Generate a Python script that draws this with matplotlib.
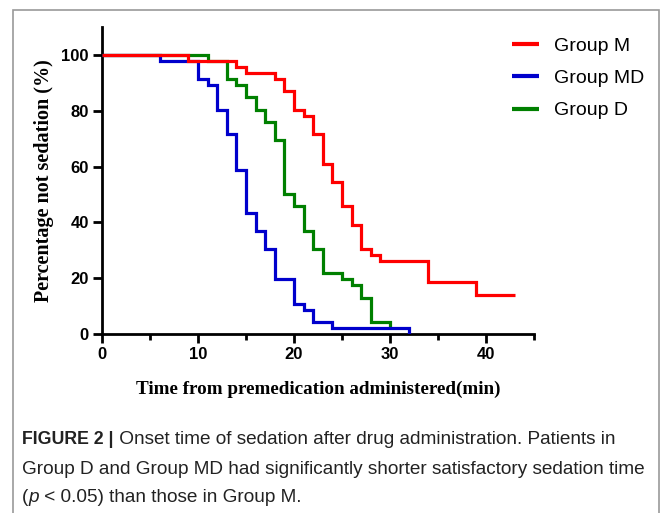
import matplotlib
matplotlib.use("Agg")
import matplotlib.pyplot as plt
from matplotlib.patches import Rectangle

# ---- data ----
m_time = [0, 9, 14, 15, 18, 19, 20, 21, 22, 23, 24, 25, 26, 27, 28, 29, 34, 39, 43]
m_pct = [100, 97.8, 95.6, 93.5, 91.3, 87.0, 80.4, 78.2, 71.7, 60.9, 54.3, 45.7, 39.1, 30.4, 28.3, 26.1, 18.5, 14.0, 14.0]

md_time = [0, 6, 10, 11, 12, 13, 14, 15, 16, 17, 18, 20, 21, 22, 24, 32]
md_pct = [100, 97.8, 91.3, 89.1, 80.4, 71.7, 58.7, 43.5, 37.0, 30.4, 19.6, 10.9, 8.7, 4.3, 2.2, 0]

d_time = [0, 11, 13, 14, 15, 16, 17, 18, 19, 20, 21, 22, 23, 25, 26, 27, 28, 30]
d_pct = [100, 97.8, 91.3, 89.1, 84.8, 80.4, 76.1, 69.6, 50.0, 45.7, 37.0, 30.4, 21.7, 19.6, 17.4, 13.0, 4.3, 2.2]

series_names = ["Group M", "Group MD", "Group D"]
series_colors = ["#ff0000", "#0000cc", "#008000"]
series_z = [5, 4, 3]

x_ticks = [0, 10, 20, 30, 40]
x_minor = [5, 15, 25, 35, 45]
y_ticks = [0, 20, 40, 60, 80, 100]

x_label = "Time from premedication administered(min)"
y_label = "Percentage not sedation (%)"

W, H = 663, 513
fig = plt.figure(figsize=(W / 100, H / 100), dpi=100)

# frame around the figure panel
fig.patches.append(Rectangle((13 / W, -0.05), (659 - 13) / W, (H - 10) / H + 0.05,
                             transform=fig.transFigure, fill=False,
                             edgecolor="#9a9a9a", linewidth=1.2))

ax = fig.add_axes([102 / W, (H - 334) / H, (534 - 102) / W, (334 - 27) / H])

for t, p, name, c, z in zip([m_time, md_time, d_time], [m_pct, md_pct, d_pct],
                            series_names, series_colors, series_z):
    ax.step(t, p, where="post", color=c, linewidth=2.3, label=name, zorder=z,
            solid_joinstyle="miter", solid_capstyle="butt")

ax.set_xlim(0, 45)
ax.set_ylim(0, 110)
ax.spines["top"].set_visible(False)
ax.spines["right"].set_visible(False)
for s in ("left", "bottom"):
    ax.spines[s].set_linewidth(2.0)
ax.set_xticks(x_ticks)
ax.set_xticks(x_minor, minor=True)
ax.set_yticks(y_ticks)
ax.tick_params(axis="both", which="major", direction="out", length=6.5, width=2.0,
               labelsize=12, pad=3)
ax.tick_params(axis="x", which="minor", direction="out", length=4, width=2.0)
for lab in ax.get_xticklabels() + ax.get_yticklabels():
    lab.set_fontfamily("Liberation Sans")
    lab.set_fontweight("bold")

ax.set_xlabel(x_label, fontfamily="Liberation Serif", fontweight="bold", fontsize=13.8,
              labelpad=13)
ax.set_ylabel(y_label, fontfamily="Liberation Serif", fontweight="bold", fontsize=14.5,
              labelpad=5)

leg = ax.legend(loc="upper left", bbox_to_anchor=(512 / W, 1 - 37 / H),
                bbox_transform=fig.transFigure, frameon=False,
                prop={"family": "Liberation Sans", "size": 14},
                handlelength=1.4, handletextpad=0.75, labelspacing=0.76,
                borderaxespad=0, borderpad=0)
for line in leg.get_lines():
    line.set_linewidth(3)

# caption with mixed styling
fig.canvas.draw()
renderer = fig.canvas.get_renderer()
cap_family = "Liberation Sans"
cap_color = "#222222"


def fit_size(text, width_px, base, **kw):
    t = fig.text(0, 0, text, fontsize=base, family=cap_family, **kw)
    w = t.get_window_extent(renderer=renderer).width
    t.remove()
    return base * width_px / w


reg_fs = fit_size("Group D and Group MD had significantly shorter satisfactory sedation time",
                  628, 12)
bold_fs = 12.8


def put_pieces(pieces, x_px, y_px):
    x = x_px
    for txt, kw in pieces:
        t = fig.text(x / W, 1 - y_px / H, txt, family=cap_family, color=cap_color,
                     va="center", ha="left", **kw)
        bb = t.get_window_extent(renderer=renderer)
        x += bb.width


put_pieces([("FIGURE 2 |", {"fontweight": "bold", "fontsize": bold_fs}),
            (" Onset time of sedation after drug administration. Patients in",
             {"fontsize": reg_fs})],
           22, 440)
put_pieces([("Group D and Group MD had significantly shorter satisfactory sedation time",
             {"fontsize": reg_fs})],
           22, 469)
put_pieces([("(", {"fontsize": reg_fs}),
            ("p", {"style": "italic", "fontsize": reg_fs}),
            (" < 0.05) than those in Group M.", {"fontsize": reg_fs})],
           22, 497)

fig.savefig("out.png", dpi=100)
